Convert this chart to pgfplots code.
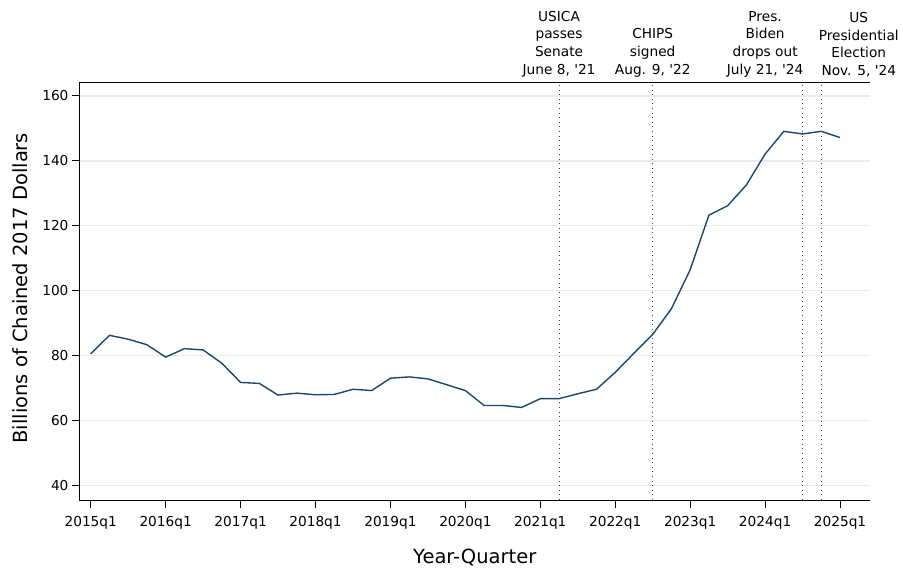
\documentclass[border=0pt]{standalone}
\usepackage{pgfplots}
\pgfplotsset{compat=1.18}
\usepackage{fontspec}
\setmainfont{DejaVu Sans}[Ligatures=TeXOff]

\definecolor{stnavy}{HTML}{1A476F}
\definecolor{gridgray}{HTML}{EAEAEA}

% quarterly series, index 0 = 2015q1
\pgfplotstableread{
q val
0 80.6
1 86.3
2 85.1
3 83.4
4 79.6
5 82.2
6 81.8
7 77.7
8 71.8
9 71.5
10 67.9
11 68.5
12 68.0
13 68.1
14 69.7
15 69.3
16 73.1
17 73.5
18 72.9
19 71.1
20 69.3
21 64.7
22 64.7
23 64.1
24 66.8
25 66.8
26 68.3
27 69.7
28 74.9
29 80.8
30 86.6
31 94.5
32 106.5
33 123.3
34 126.2
35 132.6
36 142.1
37 149.1
38 148.3
39 149.1
40 147.2
}\spend

\begin{document}
\begin{tikzpicture}
  \begin{axis}[
      name=ax,
      scale only axis,
      width=790.5pt,
      height=417.7pt,
      xmin=-0.6, xmax=41.6,
      ymin=35.6, ymax=164.2,
      axis x line=bottom,
      axis y line=left,
      axis line style={-, line width=1pt, black},
      tick align=outside,
      major tick length=7.5pt,
      tick style={line width=1pt, black},
      xtick={0,4,...,40},
      xticklabels={2015q1,2016q1,2017q1,2018q1,2019q1,2020q1,2021q1,2022q1,2023q1,2024q1,2025q1},
      ytick={40,60,...,160},
      minor tick num=0,
      ymajorgrids,
      grid style={gridgray, line width=1.2pt},
      /pgf/number format/assume math mode=true,
      ticklabel style={font=\fontsize{13.7}{16}\selectfont},
      xticklabel style={yshift=-5pt},
      xlabel={Year-Quarter},
      ylabel={Billions of Chained 2017 Dollars},
      xlabel style={font=\fontsize{19.5}{23}\selectfont, at={(axis description cs:0.5,-0.152)}, anchor=base},
      ylabel style={font=\fontsize{19.5}{23}\selectfont, at={(axis description cs:-0.0753,0.507)}, anchor=center, rotate=0},
      clip=false,
    ]
    \addplot[stnavy, line width=1.4pt] table[x=q, y=val] {\spend};

    \foreach \e in {25,30,38,39} {
      \edef\tmp{\noexpand\draw[black!75, line width=1pt, dash pattern=on 1pt off 3.6pt]
        (axis cs:\e,35.6) -- (axis cs:\e,164.2);}
      \tmp
    }
    \draw[black, line width=1pt] (rel axis cs:0,1) -- (rel axis cs:1,1);

    \begin{scope}[every node/.style={font=\fontsize{13.7}{17.7}\selectfont, align=center, anchor=south, inner sep=0pt, yshift=5pt}]
      \node at (axis cs:25,164.2) {USICA\\passes\\Senate\\June 8, '21};
      \node at (axis cs:30,164.2) {CHIPS\\signed\\Aug. 9, '22};
      \node at (axis cs:36,164.2) {Pres.\\Biden\\drops out\\July 21, '24};
      \node at (axis cs:41,164.2) {US\\Presidential\\Election\\Nov. 5, '24};
    \end{scope}
  \end{axis}
  \pgfresetboundingbox
  \path ([shift={(-79.5pt,-71pt)}]ax.south west) rectangle ([shift={(33pt,82.3pt)}]ax.north east);
\end{tikzpicture}
\end{document}
